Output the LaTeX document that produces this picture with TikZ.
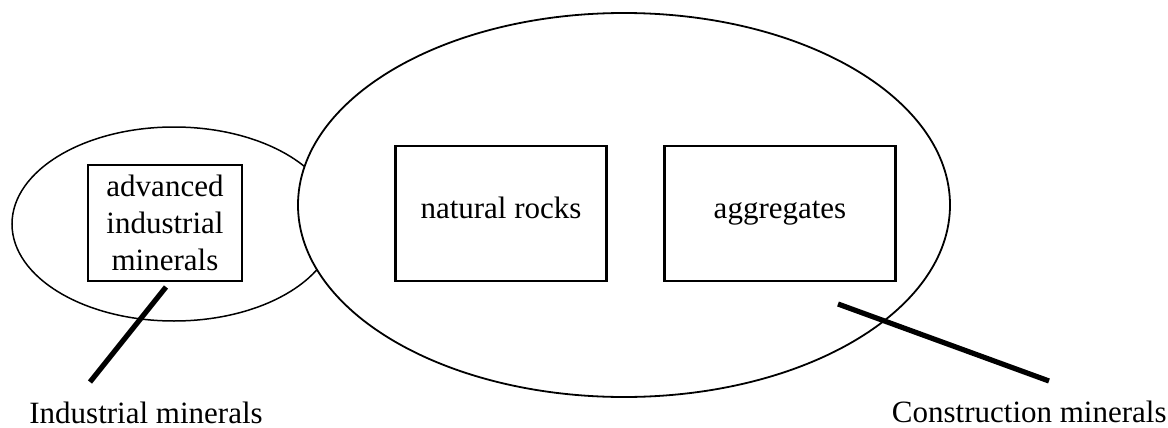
\documentclass[tikz,border=0pt]{standalone}
\usepackage{fontspec}
\setmainfont{Liberation Serif}
\usepackage{tikz}
\usetikzlibrary{shapes.geometric, positioning}

\begin{document}
\begin{tikzpicture}[x=0.5pt, y=-0.5pt,
    group/.style={draw, ellipse, inner sep=0pt, line width=0.9pt},
    mineralbox/.style={draw, rectangle, inner sep=0pt, line width=1.2pt, align=center,
      font=\fontsize{15.5}{18.5}\selectfont},
    pointer/.style={line width=2.6pt},
    caption/.style={font=\fontsize{15.5}{18.5}\selectfont, inner sep=0pt}]
  \useasboundingbox (0, 0) rectangle (1168, 428);

  % Industrial minerals group (partly hidden behind the big one)
  \node[group, line width=0.75pt, minimum width=162pt, minimum height=97pt] (indgroup) at (174, 224) {};

  % Construction minerals group
  \node[group, fill=white, minimum width=326pt, minimum height=192pt] (congroup) at (624, 205) {};

  % Boxes
  \node[mineralbox, minimum width=77pt, minimum height=58pt] (advanced) at (165, 223)
    {advanced\\industrial\\minerals};
  \node[mineralbox, minimum width=105.5pt, minimum height=67.5pt,
    text height=11pt, text depth=6.5pt] (rocks) at (501, 213.5) {natural rocks};
  \node[mineralbox, minimum width=115.5pt, minimum height=67.5pt,
    text height=11pt, text depth=6.5pt] (aggregates) at (780, 213.5) {aggregates};

  % Labels
  \node[caption, anchor=base west] (indlabel) at (29, 423) {Industrial minerals};
  \node[caption, anchor=base east] (conlabel) at (1167, 422) {Construction minerals};

  % Pointers
  \coordinate (indfrom) at (166, 287);
  \coordinate (indto) at (90, 382);
  \coordinate (confrom) at (838, 304);
  \coordinate (conto) at (1049, 381);
  \draw[pointer] (indfrom) -- (indto);
  \draw[pointer] (confrom) -- (conto);
\end{tikzpicture}
\end{document}
